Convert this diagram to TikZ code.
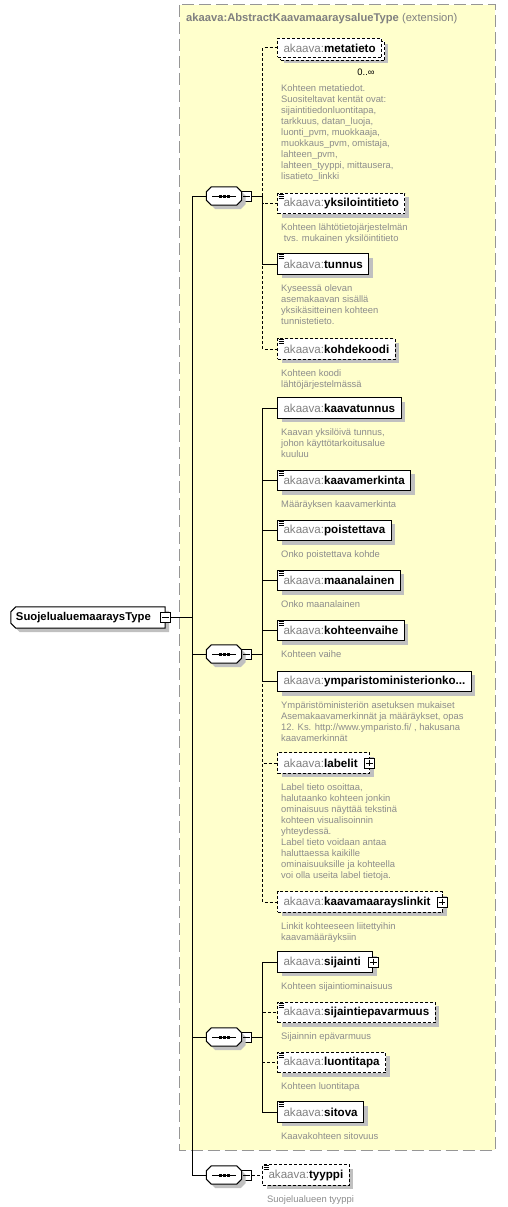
\documentclass[tikz,border=0pt]{standalone}
\usepackage{fontspec}
\setmainfont{Liberation Sans}
\usetikzlibrary{shadows,calc}
\definecolor{ybg}{RGB}{255,255,204}
\definecolor{ybd}{RGB}{150,150,150}
\definecolor{shd}{RGB}{192,192,192}
\definecolor{ptxt}{RGB}{128,128,128}
\definecolor{dtxt}{RGB}{140,140,140}
\newcommand{\ak}[1]{{\color{ptxt}akaava:}\textbf{#1}}
\tikzset{
  elem/.style={draw=black, fill=white, line width=1pt, anchor=west, minimum height=20.5pt,
    inner xsep=6pt, inner ysep=0pt, font=\fontsize{11.6}{13}\selectfont,
    drop shadow={shadow xshift=4pt, shadow yshift=-4pt, fill=shd, opacity=1}},
  multi/.style={draw=black, fill=white, line width=1pt, anchor=west, minimum height=19pt,
    inner xsep=6pt, inner ysep=0pt, font=\fontsize{11.6}{13}\selectfont,
    drop shadow={shadow xshift=6pt, shadow yshift=-6pt, fill=shd, opacity=1},
    copy shadow={shadow xshift=3pt, shadow yshift=-3pt, fill=white}},
  opt/.style={dash pattern=on 3pt off 2pt},
  desc/.style={anchor=north west, inner sep=0pt, align=left, text=dtxt,
    font=\fontsize{9.4}{11}\selectfont},
  conn/.style={line width=1pt, draw=black},
  seqn/.style={minimum width=35pt, minimum height=18pt, inner sep=0pt},
  pmbox/.style={draw=black, fill=white, minimum size=10pt, inner sep=0pt, line width=0.8pt},
  ybox/.style={fill=ybg, draw=ybd, line width=1pt, dash pattern=on 12pt off 5pt},
  shapeln/.style={draw=black, fill=white, line width=1pt,
    drop shadow={shadow xshift=4pt, shadow yshift=-4pt, fill=shd, opacity=1}},
}
\newcommand{\seqdraw}[1]{%
  \draw[shapeln] ([xshift=5pt]#1.north west) -- ([xshift=-5pt]#1.north east)
    -- ([yshift=-5pt]#1.north east) -- ([yshift=5pt]#1.south east)
    -- ([xshift=-5pt]#1.south east) -- ([xshift=5pt]#1.south west)
    -- ([yshift=5pt]#1.south west) -- ([yshift=-5pt]#1.north west) -- cycle;
  \draw[line width=1pt] ([xshift=6pt]#1.west) -- ([xshift=-6pt]#1.east);
  \foreach \dx in {-4,0,4}{\fill ([shift={(\dx-1.5,-1.5)}]#1.center) rectangle ++(3,3);}%
}
\newcommand{\minusmark}[1]{\draw[line width=0.8pt] ([xshift=2pt]#1.west) -- ([xshift=-2pt]#1.east);}
\newcommand{\plusmark}[1]{\draw[line width=0.8pt] ([xshift=2pt]#1.west) -- ([xshift=-2pt]#1.east)
  ([yshift=-2pt]#1.north) -- ([yshift=2pt]#1.south);}
\newcommand{\docicon}[1]{\foreach \dy in {1.5,3.5,5.5}{\draw[line width=0.9pt] ([shift={(1.5,\dy)}]#1.north west) -- ++(5.5,0);}}
\begin{document}
\begin{tikzpicture}[x=1pt,y=-1pt]
\useasboundingbox (0,0) rectangle (507,1207);
% container
\draw[ybox] (179.5,5) rectangle (495,1150);
\node[anchor=west, inner sep=0pt, text=ptxt, font=\fontsize{11.2}{13}\selectfont] (title) at (186,19)
  {\textbf{akaava:AbstractKaavamaaraysalueType} (extension)};

% root
\node[seqn, minimum width=154pt, minimum height=21pt] (root) at (88,617.5) {};
\draw[shapeln] (root.north east) -- (root.south east) -- ([xshift=5pt]root.south west)
  -- ([yshift=5pt]root.south west) -- ([yshift=-5pt]root.north west)
  -- ([xshift=5pt]root.north west) -- cycle;
\node[anchor=west, inner sep=0pt, font=\fontsize{11.3}{13}\selectfont\bfseries] (roottext) at ([xshift=5pt]root.west) {SuojelualuemaaraysType};
\node[pmbox] (rootm) at (root.east) {};
\minusmark{rootm}
\coordinate (mb) at (192.5,617.5);
\draw[conn] (rootm.east) -- (mb);

% sequences
\foreach \n/\y in {s1/196,s2/654,s3/1037,s4/1175}{
  \node[seqn] (\n) at (224,\y) {};
  \node[pmbox] (\n m) at ([xshift=5pt]\n.east) {};
}
\foreach \n in {s1,s2,s3,s4}{
  \seqdraw{\n}
  \minusmark{\n m}
  \draw[conn] (mb) |- (\n.west);
}
\foreach \n in {s1,s2,s3}{\coordinate (\n b) at ($(\n m.east)+(10.5,0)$);
  \draw[conn] (\n m.east) -- (\n b);}

% ---------- sequence 1
\node[multi, opt] (metatieto) at (277,48) {\ak{metatieto}};
\node[anchor=center, inner sep=0pt, font=\fontsize{9.4}{11}\selectfont] (mult) at (366,72) {0..∞};
\node[desc] (dmetatieto) at (281,84.5) {Kohteen metatiedot.\\Suositeltavat kentät ovat:\\sijaintitiedonluontitapa,\\tarkkuus, datan\_luoja,\\luonti\_pvm, muokkaaja,\\muokkaus\_pvm, omistaja,\\lahteen\_pvm,\\lahteen\_tyyppi, mittausera,\\lisatieto\_linkki};

\node[elem, opt] (yksilointitieto) at (277,203.5) {\ak{yksilointitieto}};
\docicon{yksilointitieto}
\node[desc] (dyksilointitieto) at ([shift={(4,9.5)}]yksilointitieto.south west) {Kohteen lähtötietojärjestelmän\\\ tvs. mukainen yksilöintitieto};

\node[elem] (tunnus) at (277,264) {\ak{tunnus}};
\docicon{tunnus}
\node[desc] (dtunnus) at ([shift={(4,9.5)}]tunnus.south west) {Kyseessä olevan\\asemakaavan sisällä\\yksikäsitteinen kohteen\\tunnistetieto.};

\node[elem, opt] (kohdekoodi) at (277,349) {\ak{kohdekoodi}};
\docicon{kohdekoodi}
\node[desc] (dkohdekoodi) at ([shift={(4,9.5)}]kohdekoodi.south west) {Kohteen koodi\\lähtöjärjestelmässä};

\foreach \c in {metatieto,yksilointitieto,kohdekoodi}{\draw[conn,opt] (s1b) |- (\c.west);}
\draw[conn] (s1b) |- (tunnus.west);

% ---------- sequence 2
\node[elem] (kaavatunnus) at (277,408) {\ak{kaavatunnus}};
\node[desc] (dkaavatunnus) at ([shift={(4,9.5)}]kaavatunnus.south west) {Kaavan yksilöivä tunnus,\\johon käyttötarkoitusalue\\kuuluu};

\node[elem] (kaavamerkinta) at (277,480.5) {\ak{kaavamerkinta}};
\docicon{kaavamerkinta}
\node[desc] (dkaavamerkinta) at ([shift={(4,9.5)}]kaavamerkinta.south west) {Määräyksen kaavamerkinta};

\node[elem] (poistettava) at (277,530.5) {\ak{poistettava}};
\docicon{poistettava}
\node[desc] (dpoistettava) at ([shift={(4,9.5)}]poistettava.south west) {Onko poistettava kohde};

\node[elem] (maanalainen) at (277,580.5) {\ak{maanalainen}};
\docicon{maanalainen}
\node[desc] (dmaanalainen) at ([shift={(4,9.5)}]maanalainen.south west) {Onko maanalainen};

\node[elem] (kohteenvaihe) at (277,630.5) {\ak{kohteenvaihe}};
\docicon{kohteenvaihe}
\node[desc] (dkohteenvaihe) at ([shift={(4,9.5)}]kohteenvaihe.south west) {Kohteen vaihe};

\node[elem] (ympar) at (277,681.5) {\ak{ymparistoministerionko...}};
\node[desc] (dympar) at ([shift={(4,9.5)}]ympar.south west) {Ympäristöministeriön asetuksen mukaiset\\Asemakaavamerkinnät ja määräykset, opas\\12. Ks. http://www.ymparisto.fi/ , hakusana\\kaavamerkinnät};

\node[elem, opt] (labelit) at (277,763) {\ak{labelit}\kern6pt};
\node[pmbox] (labelitp) at ([xshift=-1pt]labelit.east) {};
\plusmark{labelitp}
\node[desc] (dlabelit) at ([shift={(4,9.5)}]labelit.south west) {Label tieto osoittaa,\\halutaanko kohteen jonkin\\ominaisuus näyttää tekstinä\\kohteen visualisoinnin\\yhteydessä.\\Label tieto voidaan antaa\\haluttaessa kaikille\\ominaisuuksille ja kohteella\\voi olla useita label tietoja.};

\node[elem, opt] (linkit) at (277,902) {\ak{kaavamaarayslinkit}\kern6pt};
\node[pmbox] (linkitp) at ([xshift=-1pt]linkit.east) {};
\plusmark{linkitp}
\node[desc] (dlinkit) at ([shift={(4,9.5)}]linkit.south west) {Linkit kohteeseen liitettyihin\\kaavamääräyksiin};

\foreach \c in {labelit,linkit}{\draw[conn,opt] (s2b) |- (\c.west);}
\foreach \c in {kaavatunnus,kaavamerkinta,poistettava,maanalainen,kohteenvaihe,ympar}{\draw[conn] (s2b) |- (\c.west);}

% ---------- sequence 3
\node[elem] (sijainti) at (277,962) {\ak{sijainti}\kern6pt};
\node[pmbox] (sijaintip) at (sijainti.east) {};
\plusmark{sijaintip}
\node[desc] (dsijainti) at ([shift={(4,9.5)}]sijainti.south west) {Kohteen sijaintiominaisuus};

\node[elem, opt] (sijaintiepa) at (277,1012.5) {\ak{sijaintiepavarmuus}};
\docicon{sijaintiepa}
\node[desc] (dsijaintiepa) at ([shift={(4,9.5)}]sijaintiepa.south west) {Sijainnin epävarmuus};

\node[elem, opt] (luontitapa) at (277,1062.5) {\ak{luontitapa}};
\docicon{luontitapa}
\node[desc] (dluontitapa) at ([shift={(4,9.5)}]luontitapa.south west) {Kohteen luontitapa};

\node[elem] (sitova) at (277,1112) {\ak{sitova}};
\docicon{sitova}
\node[desc] (dsitova) at ([shift={(4,9.5)}]sitova.south west) {Kaavakohteen sitovuus};

\foreach \c in {sijaintiepa,luontitapa}{\draw[conn,opt] (s3b) |- (\c.west);}
\foreach \c in {sijainti,sitova}{\draw[conn] (s3b) |- (\c.west);}

% ---------- sequence 4
\node[elem, opt] (tyyppi) at (262,1175) {\ak{tyyppi}};
\docicon{tyyppi}
\node[desc] (dtyyppi) at ([shift={(5,9.5)}]tyyppi.south west) {Suojelualueen tyyppi};
\draw[conn,opt] (s4m.east) -- (tyyppi.west);
\end{tikzpicture}
\end{document}
